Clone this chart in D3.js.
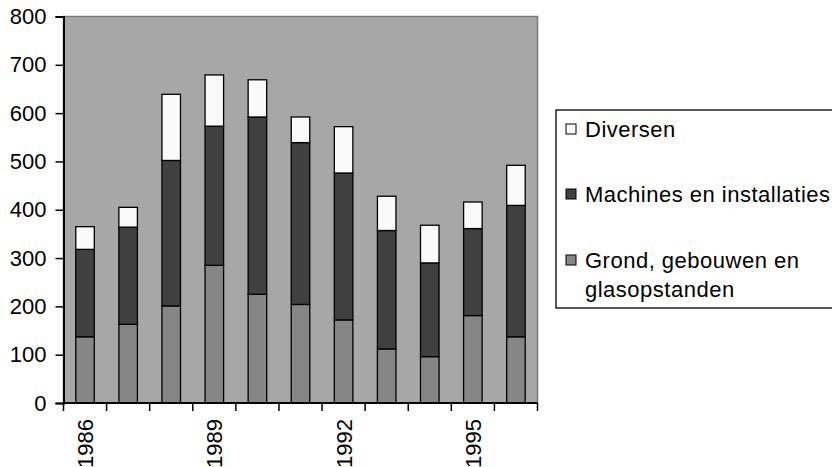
<!DOCTYPE html>
<html><head><meta charset="utf-8">
<script src="https://cdn.jsdelivr.net/npm/d3@7/dist/d3.min.js"></script>
<style>body{margin:0;background:#fff;}svg{display:block;font-family:"Liberation Sans",Arial,sans-serif;}</style>
</head><body>
<script>
const years = [1986,1987,1988,1989,1990,1991,1992,1993,1994,1995,1996];
const grond = [137,163,201,285,225,204,172,112,96,181,137];
const machines = [181,201,301,288,367,335,304,245,194,180,272];
const diversen = [47,41,137,106,77,53,96,71,78,55,83];
const seriesNames = ["Grond, gebouwen en glasopstanden","Machines en installaties","Diversen"];
const seriesColors = ["#868686","#404040","#f9f9f9"];
const yTicks = [0,100,200,300,400,500,600,700,800];
const xLabelYears = [1986,1989,1992,1995];

const W=832,H=467;
const m={left:63.5,top:16.5,right:537.5,bottom:403};
const svg=d3.select("body").append("svg").attr("width",W).attr("height",H);
const x=d3.scaleBand().domain(years).range([m.left,m.right]).paddingInner(0.57).paddingOuter(0.285);
const xb=d3.scaleBand().domain(years).range([m.left,m.right]);
const y=d3.scaleLinear().domain([0,800]).range([m.bottom,m.top]);

svg.append("rect").attr("x",m.left).attr("y",m.top).attr("width",m.right-m.left).attr("height",m.bottom-m.top)
  .attr("fill","#a7a7a7").attr("stroke","#7a7a7a").attr("stroke-width",1.5);

const table=years.map((yr,i)=>({year:yr,g:grond[i],m:machines[i],d:diversen[i]}));
const stack=d3.stack().keys(["g","m","d"])(table);
svg.selectAll("g.layer").data(stack).join("g").attr("fill",(d,i)=>seriesColors[i])
  .selectAll("rect").data(d=>d).join("rect")
  .attr("x",d=>x(d.data.year)).attr("width",x.bandwidth())
  .attr("y",d=>y(d[1])).attr("height",d=>y(d[0])-y(d[1]))
  .attr("stroke","#000").attr("stroke-width",1.3);

// y axis
const ya=svg.append("g").attr("transform",`translate(${m.left},0)`)
  .call(d3.axisLeft(y).tickValues(yTicks).tickSize(8).tickPadding(9));
ya.select(".domain").attr("stroke","#000").attr("stroke-width",2);
ya.selectAll(".tick line").attr("stroke","#000").attr("stroke-width",1.5);
ya.selectAll("text").attr("font-size",22).attr("font-family","Liberation Sans, Arial, sans-serif").attr("fill","#000");

// x axis
const xa=svg.append("g").attr("transform",`translate(0,${m.bottom})`);
xa.append("line").attr("x1",m.left).attr("x2",m.right).attr("stroke","#000").attr("stroke-width",2);
const bounds=years.map(yr=>xb(yr)).concat([m.right]);
xa.selectAll("line.t").data(bounds).join("line").attr("class","t")
  .attr("x1",d=>d).attr("x2",d=>d).attr("y1",0).attr("y2",8).attr("stroke","#000").attr("stroke-width",1.5);
xa.selectAll("text").data(xLabelYears).join("text")
  .attr("transform",d=>`translate(${xb(d)+xb.bandwidth()/2+8},16) rotate(-90)`)
  .attr("text-anchor","end").attr("font-size",22).attr("fill","#000").text(d=>d);

// legend
const lg=svg.append("g");
lg.append("rect").attr("x",556).attr("y",110).attr("width",300).attr("height",198)
  .attr("fill","#fff").attr("stroke","#000").attr("stroke-width",1.3);
const items=[{i:2,y:137,lines:["Diversen"]},{i:1,y:202,lines:["Machines en installaties"]},{i:0,y:268,lines:["Grond, gebouwen en","glasopstanden"]}];
items.forEach(it=>{
  lg.append("rect").attr("x",566).attr("y",it.y-13).attr("width",10).attr("height",10)
    .attr("fill",seriesColors[it.i]).attr("stroke","#000").attr("stroke-width",1);
  const t=lg.append("text").attr("x",585).attr("y",it.y).attr("font-size",22).attr("letter-spacing",0.5).attr("fill","#000");
  it.lines.forEach((l,k)=>t.append("tspan").attr("x",585).attr("dy",k?29:0).text(l));
});
</script>
</body></html>
